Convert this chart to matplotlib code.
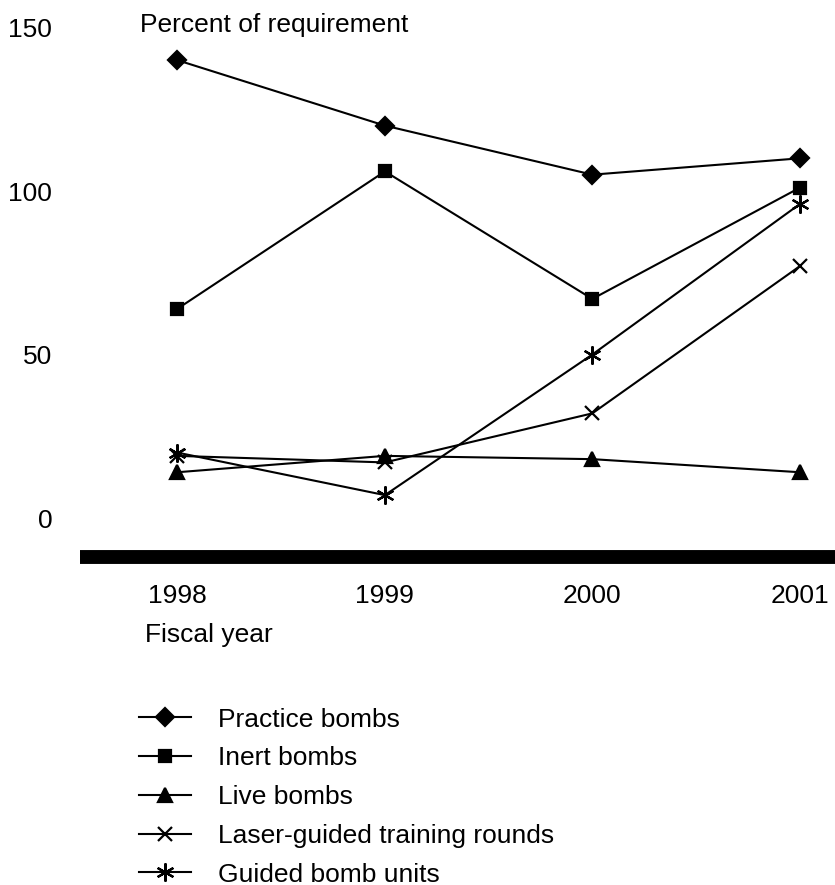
import matplotlib
matplotlib.use("Agg")
import matplotlib.pyplot as plt

plt.rcParams['font.family'] = ['Liberation Sans', 'DejaVu Sans']

years = [1998, 1999, 2000, 2001]
practice = [140, 120, 105, 110]
inert = [64, 106, 67, 101]
live = [14, 19, 18, 14]
laser = [19, 17, 32, 77]
gbu = [20, 7, 50, 96]

series = [
    ("Practice bombs", practice, "D", 9),
    ("Inert bombs", inert, "s", 8),
    ("Live bombs", live, "^", 10),
    ("Laser-guided training rounds", laser, "x", 10),
    ("Guided bomb units", gbu, (6, 2, 0), 13),
]

fig = plt.figure(figsize=(8.35, 8.85), dpi=100)
W, H = 835, 885
ax = fig.add_axes([80 / W, 1 - 570 / H, 755 / W, 550 / H])

for name, vals, mk, ms in series:
    ax.plot(years, vals, color="black", lw=1.5, marker=mk, markersize=ms,
            markeredgewidth=1.6, label=name)

ax.axhline(-12, color="black", lw=10, xmin=0, xmax=1)

ax.set_xlim(1997.53, 2001.17)
ax.set_ylim(-15.9, 152.3)
ax.set_yticks([0, 50, 100, 150])
ax.set_xticks([])
ax.tick_params(axis="y", length=0, pad=20, labelsize=19)
for s in ax.spines.values():
    s.set_visible(False)

for yr in years:
    ax.text(yr, -24, str(yr), ha="center", va="center", fontsize=19)

fig.text(140 / W, 1 - 25 / H, "Percent of requirement", ha="left", va="center", fontsize=19)
fig.text(145 / W, 1 - 635 / H, "Fiscal year", ha="left", va="center", fontsize=19)

handles, labels = ax.get_legend_handles_labels()
leg = fig.legend(handles, labels, loc="upper left", bbox_to_anchor=(128 / W, 1 - 697 / H),
                 frameon=False, fontsize=19, handlelength=2.0, handletextpad=1.0,
                 labelspacing=0.56, borderaxespad=0)
for h, (_, _, _, ms) in zip(leg.legend_handles, series):
    h.set_markersize(ms)

fig.savefig("out.png", dpi=100)
